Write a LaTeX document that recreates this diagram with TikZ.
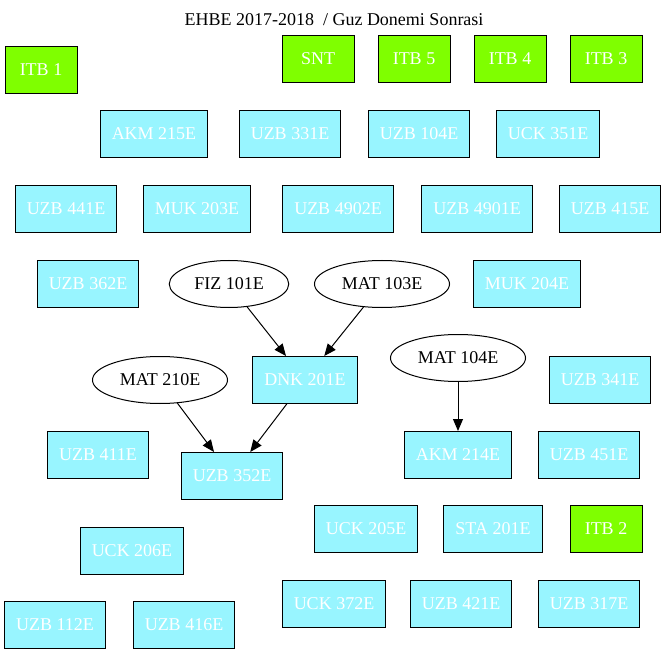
\documentclass[tikz,border=0pt]{standalone}
\usepackage{fontspec}
\setmainfont{Liberation Serif}
\usepackage{tikz}
\usetikzlibrary{shapes,arrows.meta}
\definecolor{kurs}{HTML}{98F5FF}
\definecolor{itbyesil}{HTML}{7FFF00}
\tikzstyle{ders} = [rectangle, draw, fill=kurs, text=white, line width=1pt,
    inner xsep=11.5pt, minimum width=72pt, minimum height=47pt]
\tikzstyle{itb} = [ders, fill=itbyesil]
\tikzstyle{onsart} = [draw, ellipse, fill=white, line width=1pt,
    inner xsep=7.5pt, minimum height=47pt]
\tikzstyle{line} = [draw, line width=1pt, -{Triangle[length=12pt,width=10pt]}]
\begin{document}
\begin{tikzpicture}[x=1pt, y=-1pt, font=\fontsize{18}{21}\selectfont]
        \useasboundingbox (0,0) rectangle (667,655);
        % Title
        \node (baslik) at (334,20) {EHBE 2017-2018\ \ / Guz Donemi Sonrasi};
        
        % Place nodes
        % 1. ITB and SNT courses
        \node [itb] (itb1) at (41,70) {ITB 1};
        \node [itb] (snt) at (318,59) {SNT};
        \node [itb] (itb5) at (414,59) {ITB 5};
        \node [itb] (itb4) at (510,59) {ITB 4};
        \node [itb] (itb3) at (606,59) {ITB 3};
        
        % 2. Rows of courses without prerequisites
        \node [ders] (akm215) at (154,134) {AKM 215E};
        \node [ders] (uzb331) at (290,134) {UZB 331E};
        \node [ders] (uzb104) at (419,134) {UZB 104E};
        \node [ders] (uck351) at (548,134) {UCK 351E};
        
        \node [ders] (uzb441) at (66,209) {UZB 441E};
        \node [ders] (muk203) at (197,209) {MUK 203E};
        \node [ders] (uzb4902) at (338,209) {UZB 4902E};
        \node [ders] (uzb4901) at (477,209) {UZB 4901E};
        \node [ders] (uzb415) at (610,209) {UZB 415E};
        
        \node [ders] (uzb362) at (88,284) {UZB 362E};
        \node [onsart] (fiz101) at (229,284) {FIZ 101E};
        \node [onsart] (mat103) at (382,284) {MAT 103E};
        \node [ders] (muk204) at (527,284) {MUK 204E};
        
        % 3. Prerequisite chains
        \node [onsart] (mat210) at (160,380) {MAT 210E};
        \node [ders] (dnk201) at (305,380) {DNK 201E};
        \node [onsart] (mat104) at (458,358) {MAT 104E};
        \node [ders] (uzb341) at (600,380) {UZB 341E};
        
        \node [ders] (uzb411) at (98,455) {UZB 411E};
        \node [ders] (uzb352) at (232,476) {UZB 352E};
        \node [ders] (akm214) at (458,455) {AKM 214E};
        \node [ders] (uzb451) at (589,455) {UZB 451E};
        
        % 4. Remaining courses
        \node [ders] (uck205) at (366,529) {UCK 205E};
        \node [ders] (sta201) at (493,529) {STA 201E};
        \node [itb] (itb2) at (606,529) {ITB 2};
        \node [ders] (uck206) at (132,551) {UCK 206E};
        
        \node [ders] (uck372) at (334,604) {UCK 372E};
        \node [ders] (uzb421) at (461,604) {UZB 421E};
        \node [ders] (uzb317) at (589,604) {UZB 317E};
        \node [ders] (uzb112) at (55,625) {UZB 112E};
        \node [ders] (uzb416) at (184,625) {UZB 416E};
        
        % Draw edges
        \path [line] (fiz101) -- (dnk201);
        \path [line] (mat103) -- (dnk201);
        \path [line] (mat210) -- (uzb352);
        \path [line] (dnk201) -- (uzb352);
        \path [line] (mat104) -- (akm214);
        
      \end{tikzpicture}
\end{document}
